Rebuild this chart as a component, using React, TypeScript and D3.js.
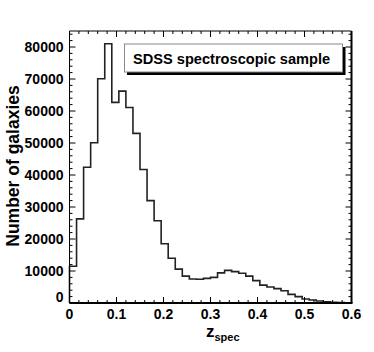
import * as d3 from "d3";

// histogram of spectroscopic redshifts, bins of 0.015 from 0 to 0.6
const binWidth = 0.015;
const counts = [
  11500, 26300, 42400, 50100, 70100, 81000, 62700, 66200, 61100, 53000,
  41700, 32000, 25700, 18500, 14000, 10600, 8400, 7500, 7400, 7700,
  8000, 9400, 10200, 9800, 9300, 8400, 7000, 5600, 5000, 4500,
  3850, 2700, 2000, 1250, 950, 620, 400, 250, 150, 80,
];
const xTicks = [0, 0.1, 0.2, 0.3, 0.4, 0.5, 0.6];
const yTicks = [0, 10000, 20000, 30000, 40000, 50000, 60000, 70000, 80000];
const legendText = "SDSS spectroscopic sample";

const W = 374;
const H = 352;
const frame = { left: 69.5, right: 351.5, top: 31, bottom: 303 };
const font = "'Liberation Sans', Arial, Helvetica, sans-serif";

export default function App() {
  const x = d3.scaleLinear().domain([0, 0.6]).range([frame.left, frame.right]);
  const y = d3.scaleLinear().domain([0, 85000]).range([frame.bottom, frame.top]);

  const pts: [number, number][] = [[0, 0]];
  counts.forEach((c, i) => {
    pts.push([i * binWidth, c]);
    pts.push([(i + 1) * binWidth, c]);
  });
  pts.push([counts.length * binWidth, 0]);
  const line = d3.line<[number, number]>().x(d => x(d[0])).y(d => y(d[1]));

  const xMinor = d3.range(0, 0.601, 0.02);
  const yMinor = d3.range(0, 85001, 2000);
  const majLen = 6;
  const minLen = 3;

  return (
    <svg width={W} height={H} style={{ position: "absolute", left: 0, top: 0, background: "#fff" }}>
      <rect x={0} y={0} width={W} height={H} fill="#fff" />

      {/* histogram */}
      <path d={line(pts) || ""} fill="none" stroke="#222" strokeWidth={1.6} />

      {/* ticks */}
      <g stroke="#000" strokeWidth={1}>
        {xMinor.map((v, i) => {
          const len = i % 5 === 0 ? majLen : minLen;
          return (
            <g key={"xm" + i}>
              <line x1={x(v)} x2={x(v)} y1={frame.bottom} y2={frame.bottom - len} />
              <line x1={x(v)} x2={x(v)} y1={frame.top} y2={frame.top + len} />
            </g>
          );
        })}
        {yMinor.map((v, i) => {
          const len = i % 5 === 0 ? majLen : minLen;
          return (
            <g key={"ym" + i}>
              <line x1={frame.left} x2={frame.left + len} y1={y(v)} y2={y(v)} />
              <line x1={frame.right} x2={frame.right - len} y1={y(v)} y2={y(v)} />
            </g>
          );
        })}
      </g>

      {/* frame */}
      <line x1={frame.left} x2={frame.right} y1={frame.top} y2={frame.top} stroke="#000" strokeWidth={1} />
      <line x1={frame.left} x2={frame.left} y1={frame.top} y2={frame.bottom} stroke="#000" strokeWidth={1} />
      <line x1={frame.left} x2={frame.right + 1} y1={frame.bottom} y2={frame.bottom} stroke="#000" strokeWidth={2} />
      <line x1={frame.right} x2={frame.right} y1={frame.top} y2={frame.bottom} stroke="#000" strokeWidth={2} />

      {/* tick labels */}
      <g fontFamily={font} fontWeight="bold" fontSize={14} fill="#000">
        {xTicks.map(v => (
          <text key={"xl" + v} x={x(v)} y={319} textAnchor="middle">
            {v === 0 ? "0" : v.toFixed(1)}
          </text>
        ))}
        {yTicks.map(v => (
          <text key={"yl" + v} x={63.5} y={y(v) + (v === 0 ? -1 : 5)} textAnchor="end">
            {v}
          </text>
        ))}
      </g>

      {/* axis titles */}
      <text
        transform={`translate(19,166) rotate(-90)`}
        textAnchor="middle"
        fontFamily={font}
        fontWeight="bold"
        fontSize={17.5}
      >
        Number of galaxies
      </text>
      <text x={206} y={337} fontFamily={font} fontWeight="bold" fontSize={17}>
        z
        <tspan fontSize={11} dy={3.5}>spec</tspan>
      </text>

      {/* legend */}
      <rect x={127} y={47} width={218.5} height={28} fill="#000" />
      <rect x={124.5} y={44} width={218} height={28} fill="#fff" stroke="#888" strokeWidth={1} />
      <text x={133} y={63.5} fontFamily={font} fontWeight="bold" fontSize={14.6}>
        {legendText}
      </text>
    </svg>
  );
}
